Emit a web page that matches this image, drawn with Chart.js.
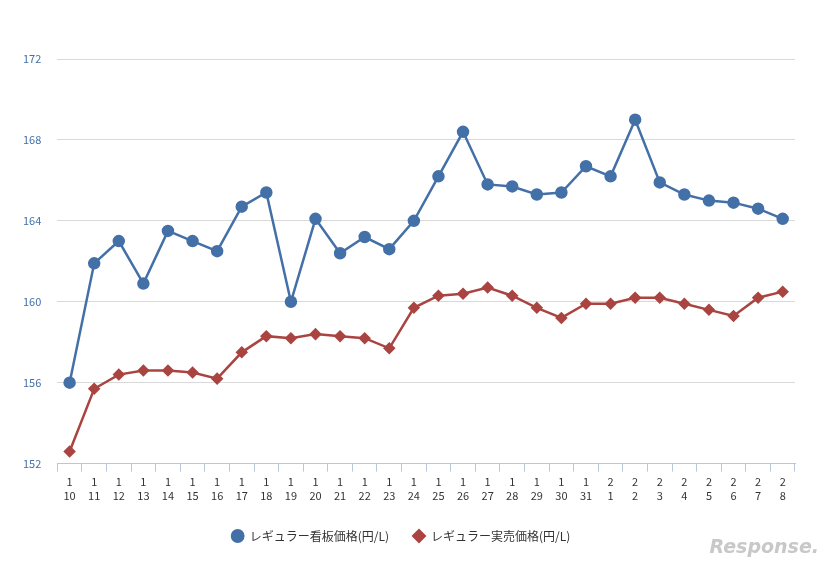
<!DOCTYPE html>
<html><head><meta charset="utf-8">
<script src="https://cdn.jsdelivr.net/npm/chart.js@4"></script>
<style>
html,body{margin:0;padding:0;background:#fff;}
#wrap{position:relative;width:833px;height:567px;}
#logo{position:absolute;right:14px;bottom:10px;font:italic bold 19px "DejaVu Sans",sans-serif;color:#c8c8c8;}
</style></head>
<body><div id="wrap"><canvas id="c" width="833" height="567"></canvas><div id="logo">Response.</div></div>
<script>
const months = ["1","1","1","1","1","1","1","1","1","1","1","1","1","1","1","1","1","1","1","1","1","1","2","2","2","2","2","2","2","2"];
const days = ["10","11","12","13","14","15","16","17","18","19","20","21","22","23","24","25","26","27","28","29","30","31","1","2","3","4","5","6","7","8"];
const signPrice = [156.0,161.9,163.0,160.9,163.5,163.0,162.5,164.7,165.4,160.0,164.1,162.4,163.2,162.6,164.0,166.2,168.4,165.8,165.7,165.3,165.4,166.7,166.2,169.0,165.9,165.3,165.0,164.9,164.6,164.1];
const actualPrice = [152.6,155.7,156.4,156.6,156.6,156.5,156.2,157.5,158.3,158.2,158.4,158.3,158.2,157.7,159.7,160.3,160.4,160.7,160.3,159.7,159.2,159.9,159.9,160.2,160.2,159.9,159.6,159.3,160.2,160.5];
const yTicks = [152,156,160,164,168,172];

const labels = months.map((m, i) => [m, days[i]]);
const font = "'Noto Sans CJK JP', 'DejaVu Sans', sans-serif";

new Chart(document.getElementById("c"), {
    type: "line",
    data: {
        labels: labels,
        datasets: [{
            label: "レギュラー看板価格(円/L)",
            data: signPrice,
            borderColor: "#4470a8",
            backgroundColor: "#4470a8",
            borderWidth: 2.5,
            tension: 0,
            pointStyle: "circle",
            pointRadius: 5,
        }, {
            label: "レギュラー実売価格(円/L)",
            data: actualPrice,
            borderColor: "#aa4440",
            backgroundColor: "#aa4440",
            borderWidth: 2.5,
            tension: 0,
            pointStyle: "rectRot",
            pointRadius: 4.5,
        }],
    },
    options: {
        responsive: false,
        animation: false,
        layout: { padding: { top: 59, right: 38, left: 7, bottom: 15 } },
        plugins: {
            legend: {
                position: "bottom",
                labels: {
                    color: "#333",
                    font: { size: 12, family: font },
                    usePointStyle: true,
                    boxHeight: 8,
                    padding: 24,
                },
            },
            tooltip: { enabled: false },
        },
        scales: {
            y: {
                min: 152,
                max: 172,
                afterBuildTicks: (s) => { s.ticks = yTicks.map(v => ({ value: v })); },
                ticks: { color: "#4470a8", font: { size: 11, family: font }, padding: 16 },
                grid: { color: "#d9d9d9", drawTicks: false },
                border: { display: false },
            },
            x: {
                offset: true,
                ticks: { color: "#333", font: { size: 11, family: font }, maxRotation: 0, autoSkip: false, padding: 4 },
                grid: { offset: true, display: true, drawOnChartArea: false, color: "#b8c8d8", tickLength: 8 },
                border: { color: "#b8c8d8" },
            },
        },
    },
});
</script></body></html>
